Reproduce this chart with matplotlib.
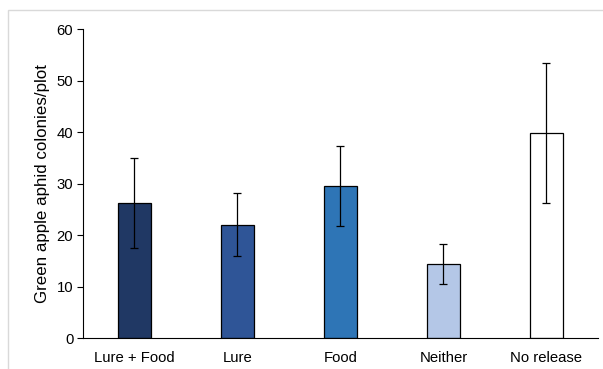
import matplotlib
matplotlib.use('Agg')
import matplotlib.pyplot as plt
from matplotlib.patches import Rectangle
import numpy as np

plt.rcParams['font.family'] = ['Liberation Sans', 'DejaVu Sans']

# data
categories = ['Lure + Food', 'Lure', 'Food', 'Neither', 'No release']
means = [26.2, 21.9, 29.6, 14.4, 39.8]
err_hi = [34.9, 28.1, 37.3, 18.2, 53.5]
err_lo = [17.4, 15.9, 21.8, 10.5, 26.2]
colors = ['#203864', '#2F5597', '#2E75B6', '#B4C7E7', '#FFFFFF']

x = np.arange(len(categories))
yerr = [np.array(means) - np.array(err_lo), np.array(err_hi) - np.array(means)]

fig = plt.figure(figsize=(6.03, 3.69), dpi=100)
ax = fig.add_axes([0.1376, 0.084, 0.854, 0.837])

# light grey frame around the chart area
fig.patches.append(Rectangle((8 / 603, -0.1), 1.0, 1 - 10 / 369 + 0.1,
                             transform=fig.transFigure, fill=False,
                             edgecolor='#D9D9D9', linewidth=1.0))

ax.bar(x, means, width=0.32, color=colors, edgecolor='black', linewidth=0.9,
       yerr=yerr, error_kw=dict(ecolor='black', elinewidth=0.9, capsize=2.7, capthick=0.9))

ax.set_xlim(-0.5, 4.5)
ax.set_ylim(0, 60)
ax.set_yticks(range(0, 61, 10))
ax.set_xticks(x)
ax.set_xticklabels(categories)
ax.set_ylabel('Green apple aphid colonies/plot', fontsize=12.2, labelpad=5)
ax.tick_params(axis='both', labelsize=10.7)
ax.tick_params(axis='x', length=0, pad=9)
ax.tick_params(axis='y', length=4, width=0.8, pad=3)

for side in ['top', 'right']:
    ax.spines[side].set_visible(False)
ax.spines['left'].set_linewidth(0.8)
ax.spines['bottom'].set_linewidth(0.8)

fig.savefig('out.png', dpi=100)
